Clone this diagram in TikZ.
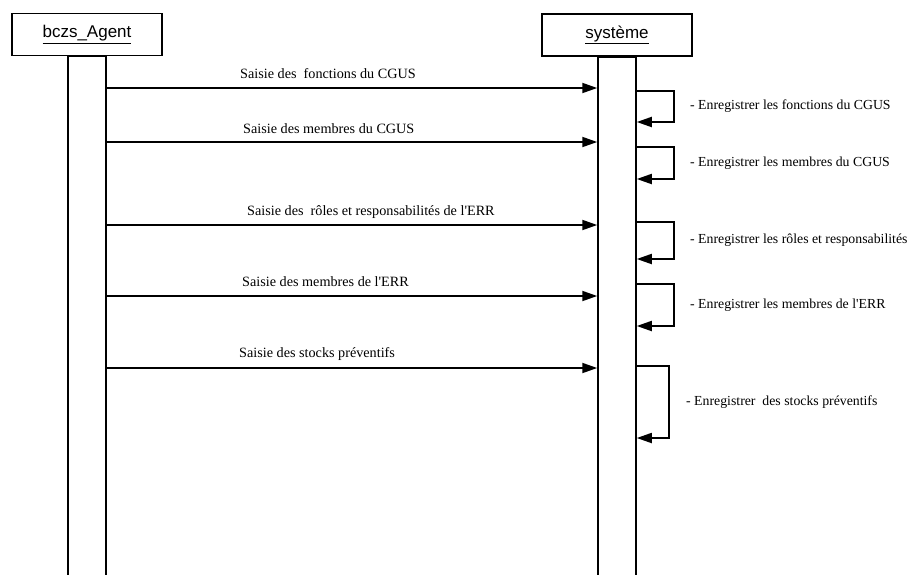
\documentclass[tikz,border=0pt]{standalone}
\usepackage{fontspec}
\setmainfont{Liberation Serif}
\newfontfamily\boxfont{Liberation Sans}
\usetikzlibrary{arrows.meta,calc}
\newcommand{\apos}{\XeTeXglyph\XeTeXglyphindex "quotesingle"\relax}
\begin{document}
\begin{tikzpicture}[x=1pt,y=-1pt,
  actor/.style={draw,line width=1.8pt,minimum width=150pt,minimum height=42pt,inner sep=0pt,font=\boxfont\fontsize{17}{20}\selectfont},
  bar/.style={draw,line width=1.5pt,minimum width=38pt,inner sep=0pt,anchor=north},
  msg/.style={line width=1.8pt,-{Triangle[length=15pt,width=10pt]}},
  lbl/.style={inner sep=0pt,anchor=west,font=\fontsize{14.2}{17}\selectfont},
  rlbl/.style={inner sep=0pt,anchor=west,font=\fontsize{13.8}{17}\selectfont}]
\useasboundingbox (0,0) rectangle (909,574);
\node[bar,minimum height=540pt] (abar) at (87,55) {};
\node[bar,minimum height=540pt] (sbar) at (617,56) {};
\node[actor,fill=white] (agent) at (87,34.5) {\underline{bczs\_Agent}};
\node[actor,fill=white] (sys) at (617,35) {\underline{système}};
% messages
\foreach \y/\ly/\lx/\t/\n in {
  88/74/240/{Saisie des\ \ fonctions du CGUS}/m1,
  142/129/243/{Saisie des membres du CGUS}/m2,
  225/212/247/{Saisie des\ \ rôles et responsabilités de l\apos ERR}/m3,
  296/282/242/{Saisie des membres de l\apos ERR}/m4,
  368/354/239/{Saisie des stocks préventifs}/m5}{
  \coordinate (\n s) at (abar.east |- 0,\y);
  \coordinate (\n e) at (sbar.west |- 0,\y);
  \draw[msg] (\n s) -- (\n e);
  \node[lbl] (\n l) at (\lx,\ly) {\t};
}
% self loops
\foreach \top/\bot/\rx/\ly/\lx/\t/\n in {
  91/122/674/106/690/{- Enregistrer les fonctions du CGUS}/r1,
  147/179/674/163/690/{- Enregistrer les membres du CGUS}/r2,
  222/259/674/240/690/{- Enregistrer les rôles et responsabilités}/r3,
  284/326/674/305/690/{- Enregistrer les membres de l\apos ERR}/r4,
  366/438/669/402/686/{- Enregistrer\ \ des stocks préventifs}/r5}{
  \coordinate (\n a) at (sbar.east |- 0,\top);
  \coordinate (\n b) at (sbar.east |- 0,\bot);
  \draw[msg] (\n a) -- (\rx,\top) -- (\rx,\bot) -- (\n b);
  \node[rlbl] (\n l) at (\lx,\ly) {\t};
}
\end{tikzpicture}
\end{document}
